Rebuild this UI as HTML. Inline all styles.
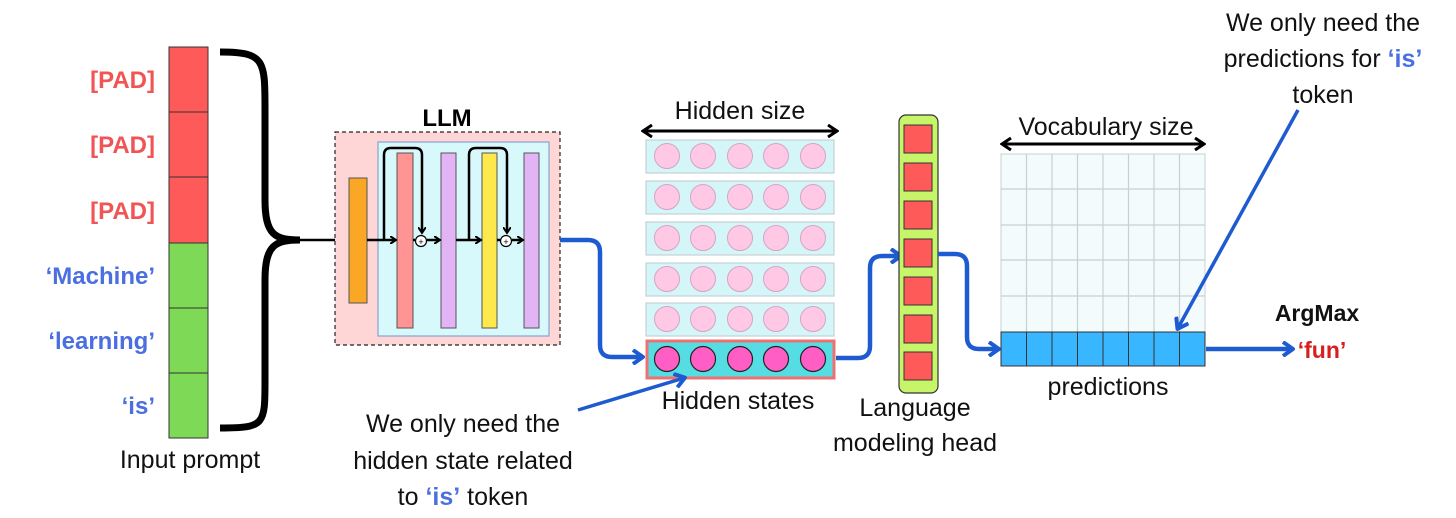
<!DOCTYPE html>
<html><head><meta charset="utf-8"><style>
html,body{margin:0;padding:0;background:#fff;}
svg{display:block;}
text{font-family:"Liberation Sans",sans-serif;}
</style></head><body>
<svg width="1456" height="518" viewBox="0 0 1456 518" xmlns="http://www.w3.org/2000/svg">
<defs>
<marker id="ab" markerWidth="8" markerHeight="8" refX="5" refY="4" orient="auto" markerUnits="userSpaceOnUse"><path d="M0,0 L6,4 L0,8" fill="none" stroke="#000" stroke-width="2"/></marker>
<marker id="ablue" markerWidth="14" markerHeight="16" refX="10" refY="8" orient="auto" markerUnits="userSpaceOnUse"><path d="M1,1 L11,8 L1,15" fill="none" stroke="#1e5bd0" stroke-width="4" stroke-linejoin="round"/></marker>
<marker id="ak" markerWidth="12" markerHeight="14" refX="9" refY="7" orient="auto-start-reverse" markerUnits="userSpaceOnUse"><path d="M1,1 L10,7 L1,13" fill="none" stroke="#000" stroke-width="3"/></marker>
</defs>

<!-- input cells -->
<g stroke="#333" stroke-width="1">
<rect x="169" y="47" width="39" height="65" fill="#fe5a5a"/>
<rect x="169" y="112" width="39" height="65" fill="#fe5a5a"/>
<rect x="169" y="177" width="39" height="66" fill="#fe5a5a"/>
<rect x="169" y="243" width="39" height="65" fill="#7ed957"/>
<rect x="169" y="308" width="39" height="65" fill="#7ed957"/>
<rect x="169" y="373" width="39" height="65" fill="#7ed957"/>
</g>
<g font-weight="bold" font-size="24" text-anchor="end">
<text x="155" y="88" fill="#f15454">[PAD]</text>
<text x="155" y="153" fill="#f15454">[PAD]</text>
<text x="155" y="219" fill="#f15454">[PAD]</text>
<text x="155" y="284" fill="#4b6fe0">‘Machine’</text>
<text x="155" y="349" fill="#4b6fe0">‘learning’</text>
<text x="155" y="414" fill="#4b6fe0">‘is’</text>
</g>
<text x="190" y="468" font-size="25" text-anchor="middle" fill="#111">Input prompt</text>

<!-- brace -->
<path d="M220,52 C265,52 265,60 265,110 L265,200 C265,235 275,240 300,240 C275,240 265,245 265,280 L265,380 C265,425 265,428 220,428" fill="none" stroke="#000" stroke-width="7"/>
<line x1="300" y1="240" x2="346" y2="240" stroke="#000" stroke-width="2.5" marker-end="url(#ab)"/>

<!-- LLM -->
<text x="447" y="126" font-size="24" font-weight="bold" text-anchor="middle">LLM</text>
<rect x="335" y="132" width="225" height="213" fill="#ffd6d6" stroke="#222" stroke-width="1.2" stroke-dasharray="4,3"/>
<rect x="378" y="142" width="171" height="194" fill="#d8f9fb" stroke="#8aa0d0" stroke-width="1.2"/>
<rect x="349" y="178" width="18" height="125" fill="#fba726" stroke="#555"/>
<rect x="397" y="153" width="16" height="175" fill="#ff9494" stroke="#555"/>
<rect x="441" y="153" width="15" height="175" fill="#e2b4f5" stroke="#555"/>
<rect x="482" y="153" width="15" height="175" fill="#ffe84b" stroke="#555"/>
<rect x="524" y="153" width="15" height="175" fill="#e2b4f5" stroke="#555"/>
<g stroke="#000" stroke-width="2.5" fill="none">
<line x1="367" y1="240" x2="395" y2="240" marker-end="url(#ab)"/>
<line x1="413" y1="240" x2="415" y2="240"/>
<line x1="427" y1="240" x2="439" y2="240" marker-end="url(#ab)"/>
<line x1="456" y1="240" x2="480" y2="240" marker-end="url(#ab)"/>
<line x1="497" y1="240" x2="500" y2="240"/>
<line x1="512" y1="240" x2="522" y2="240" marker-end="url(#ab)"/>
<path d="M384,240 L384,155 Q384,148 391,148 L415,148 Q422,148 422,155 L422,232" marker-end="url(#ab)"/>
<path d="M469,240 L469,155 Q469,148 476,148 L500,148 Q507,148 507,155 L507,232" marker-end="url(#ab)"/>
</g>
<circle cx="421" cy="241" r="5.5" fill="#fff" stroke="#000" stroke-width="1.2"/>
<text x="421" y="245" font-size="9" text-anchor="middle">+</text>
<circle cx="506" cy="241" r="5.5" fill="#fff" stroke="#000" stroke-width="1.2"/>
<text x="506" y="245" font-size="9" text-anchor="middle">+</text>

<!-- blue arrow LLM -> hidden -->
<path d="M560,240 L588,240 Q600,240 600,252 L600,345 Q600,357 612,357 L642,357" fill="none" stroke="#1e5bd0" stroke-width="4.5" marker-end="url(#ablue)"/>

<!-- hidden states -->
<text x="740" y="119" font-size="25" text-anchor="middle" fill="#111">Hidden size</text>
<line x1="644" y1="131" x2="836" y2="131" stroke="#000" stroke-width="3" marker-start="url(#ak)" marker-end="url(#ak)"/>
<g stroke="#c5d2d4" stroke-width="1.2" fill="#d5f6f9">
<rect x="646" y="140" width="188" height="33"/>
<rect x="646" y="181" width="188" height="33"/>
<rect x="646" y="222" width="188" height="33"/>
<rect x="646" y="263" width="188" height="33"/>
<rect x="646" y="303" width="188" height="33"/>
</g>
<g fill="#ffc9e6" stroke="#d5a4c4" stroke-width="1">
<circle cx="667" cy="156" r="12.5"/><circle cx="703" cy="156" r="12.5"/><circle cx="740" cy="156" r="12.5"/><circle cx="776" cy="156" r="12.5"/><circle cx="813" cy="156" r="12.5"/>
<circle cx="667" cy="197" r="12.5"/><circle cx="703" cy="197" r="12.5"/><circle cx="740" cy="197" r="12.5"/><circle cx="776" cy="197" r="12.5"/><circle cx="813" cy="197" r="12.5"/>
<circle cx="667" cy="238" r="12.5"/><circle cx="703" cy="238" r="12.5"/><circle cx="740" cy="238" r="12.5"/><circle cx="776" cy="238" r="12.5"/><circle cx="813" cy="238" r="12.5"/>
<circle cx="667" cy="279" r="12.5"/><circle cx="703" cy="279" r="12.5"/><circle cx="740" cy="279" r="12.5"/><circle cx="776" cy="279" r="12.5"/><circle cx="813" cy="279" r="12.5"/>
<circle cx="667" cy="319" r="12.5"/><circle cx="703" cy="319" r="12.5"/><circle cx="740" cy="319" r="12.5"/><circle cx="776" cy="319" r="12.5"/><circle cx="813" cy="319" r="12.5"/>
</g>
<rect x="647" y="341" width="187" height="37" fill="#55dde3" stroke="#f07070" stroke-width="3"/>
<g fill="#ff5ec4" stroke="#222" stroke-width="1.2">
<circle cx="667" cy="359" r="12.5"/><circle cx="703" cy="359" r="12.5"/><circle cx="740" cy="359" r="12.5"/><circle cx="776" cy="359" r="12.5"/><circle cx="813" cy="359" r="12.5"/>
</g>
<text x="738" y="409" font-size="25" text-anchor="middle" fill="#111">Hidden states</text>

<!-- hidden -> LM head -->
<path d="M836,358 L858,358 Q870,358 870,346 L870,268 Q870,256 882,256 L900,256" fill="none" stroke="#1e5bd0" stroke-width="4.5" marker-end="url(#ablue)"/>

<!-- LM head -->
<rect x="899" y="115" width="39" height="278" rx="7" fill="#c6f56a" stroke="#333" stroke-width="1.2"/>
<g fill="#fe5a5a" stroke="#333" stroke-width="1">
<rect x="904" y="125" width="28" height="28"/>
<rect x="904" y="163" width="28" height="28"/>
<rect x="904" y="201" width="28" height="28"/>
<rect x="904" y="239" width="28" height="28"/>
<rect x="904" y="277" width="28" height="28"/>
<rect x="904" y="315" width="28" height="28"/>
<rect x="904" y="352" width="28" height="28"/>
</g>
<text x="915" y="416" font-size="25" text-anchor="middle" fill="#111">Language</text>
<text x="915" y="451" font-size="25" text-anchor="middle" fill="#111">modeling head</text>

<!-- LM -> predictions -->
<path d="M938,254 L955,254 Q967,254 967,266 L967,337 Q967,349 979,349 L998,349" fill="none" stroke="#1e5bd0" stroke-width="4.5" marker-end="url(#ablue)"/>

<!-- vocab grid -->
<text x="1106" y="135" font-size="25" text-anchor="middle" fill="#111">Vocabulary size</text>
<line x1="1003" y1="144" x2="1203" y2="144" stroke="#000" stroke-width="3" marker-start="url(#ak)" marker-end="url(#ak)"/>
<rect x="1001" y="154" width="204" height="178" fill="#f3fbfd" stroke="#c8d0d2"/>
<g stroke="#c8d0d2" stroke-width="1.2">
<line x1="1026.5" y1="154" x2="1026.5" y2="332"/><line x1="1052" y1="154" x2="1052" y2="332"/><line x1="1077.5" y1="154" x2="1077.5" y2="332"/><line x1="1103" y1="154" x2="1103" y2="332"/><line x1="1128.5" y1="154" x2="1128.5" y2="332"/><line x1="1154" y1="154" x2="1154" y2="332"/><line x1="1179.5" y1="154" x2="1179.5" y2="332"/>
<line x1="1001" y1="189" x2="1205" y2="189"/><line x1="1001" y1="225" x2="1205" y2="225"/><line x1="1001" y1="260" x2="1205" y2="260"/><line x1="1001" y1="296" x2="1205" y2="296"/>
</g>
<rect x="1001" y="332" width="204" height="34" fill="#38b6ff" stroke="#333" stroke-width="1"/>
<g stroke="#333" stroke-width="1">
<line x1="1026.5" y1="332" x2="1026.5" y2="366"/><line x1="1052" y1="332" x2="1052" y2="366"/><line x1="1077.5" y1="332" x2="1077.5" y2="366"/><line x1="1103" y1="332" x2="1103" y2="366"/><line x1="1128.5" y1="332" x2="1128.5" y2="366"/><line x1="1154" y1="332" x2="1154" y2="366"/><line x1="1179.5" y1="332" x2="1179.5" y2="366"/>
</g>
<text x="1108" y="395" font-size="25" text-anchor="middle" fill="#111">predictions</text>

<!-- argmax -->
<line x1="1206" y1="349" x2="1292" y2="349" stroke="#1e5bd0" stroke-width="4.5" marker-end="url(#ablue)"/>
<text x="1317" y="321" font-size="23" font-weight="bold" text-anchor="middle" fill="#111">ArgMax</text>
<text x="1322" y="358" font-size="23" font-weight="bold" text-anchor="middle" fill="#d61f1f">‘fun’</text>

<!-- top-right annotation -->
<text x="1323" y="31" font-size="25" text-anchor="middle" fill="#111">We only need the</text>
<text x="1323" y="67" font-size="25" text-anchor="middle" fill="#111">predictions for <tspan fill="#4b6fe0" font-weight="bold">‘is’</tspan></text>
<text x="1323" y="103" font-size="25" text-anchor="middle" fill="#111">token</text>
<line x1="1298" y1="110" x2="1178" y2="328" stroke="#1e5bd0" stroke-width="3.5" marker-end="url(#ablue)"/>

<!-- bottom annotation -->
<text x="463" y="432" font-size="25" text-anchor="middle" fill="#111">We only need the</text>
<text x="463" y="469" font-size="25" text-anchor="middle" fill="#111">hidden state related</text>
<text x="463" y="505" font-size="25" text-anchor="middle" fill="#111">to <tspan fill="#4b6fe0" font-weight="bold">‘is’</tspan> token</text>
<line x1="578" y1="410" x2="684" y2="378" stroke="#1e5bd0" stroke-width="3.5" marker-end="url(#ablue)"/>
</svg>
</body></html>
